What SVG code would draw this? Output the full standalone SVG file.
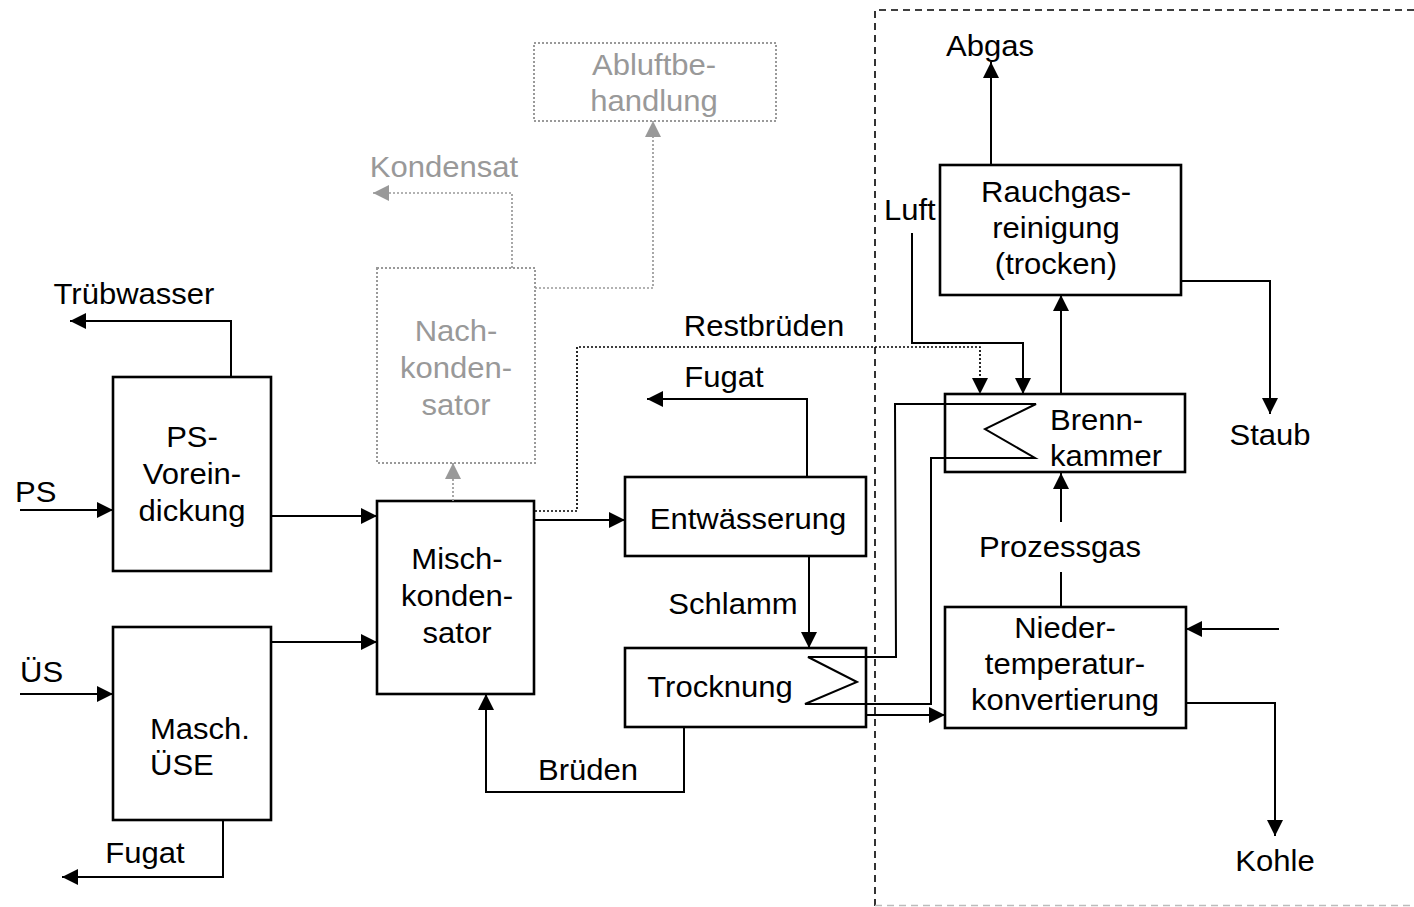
<svg xmlns="http://www.w3.org/2000/svg" width="1414" height="907" viewBox="0 0 1414 907">
<style>
.box{fill:none;stroke:#000;stroke-width:2.6}
.gbox{fill:none;stroke:#999;stroke-width:2;stroke-dasharray:2 2}
.ln{fill:none;stroke:#000;stroke-width:2}
.dl{fill:none;stroke:#000;stroke-width:1.7;stroke-dasharray:2 2}
.gl{fill:none;stroke:#999;stroke-width:1.7;stroke-dasharray:2 2}
.bd{fill:none;stroke:#000;stroke-width:1.6;stroke-dasharray:7 5}
text{font-family:"Liberation Sans",Arial,sans-serif;font-size:29px;fill:#000}
.g{fill:#999}
.c{text-anchor:middle}
</style>
<defs>
<marker id="a" markerUnits="userSpaceOnUse" markerWidth="18" markerHeight="18" refX="16" refY="8" orient="auto"><path d="M0,0L16,8L0,16z" fill="#000"/></marker>
<marker id="ag" markerUnits="userSpaceOnUse" markerWidth="18" markerHeight="18" refX="16" refY="8" orient="auto"><path d="M0,0L16,8L0,16z" fill="#999"/></marker>
</defs>
<rect x="0" y="0" width="1414" height="907" fill="#fff"/>
<g id="boundary"><path class="bd" d="M875,906V10H1414"/><path d="M875,905.5H1414" stroke="#bbb" stroke-width="1.5" stroke-dasharray="7 5" fill="none"/></g>

<g id="ps-voreindickung"><rect class="box" x="113" y="377" width="158" height="194"/><text class="c" transform="translate(192,447) scale(1.07,1)"><tspan x="0">PS-</tspan><tspan x="0" dy="37">Vorein-</tspan><tspan x="0" dy="37">dickung</tspan></text></g>
<g id="masch-use"><rect class="box" x="113" y="627" width="158" height="193"/><text transform="translate(150,739) scale(1.07,1)"><tspan x="0">Masch.</tspan><tspan x="0" dy="36">ÜSE</tspan></text></g>
<g id="mischkondensator"><rect class="box" x="377" y="501" width="157" height="193"/><text class="c" transform="translate(457,569) scale(1.07,1)"><tspan x="0">Misch-</tspan><tspan x="0" dy="37">konden-</tspan><tspan x="0" dy="37">sator</tspan></text></g>
<g id="nachkondensator"><rect class="gbox" x="377" y="268" width="158" height="195"/><text class="c g" transform="translate(456,341) scale(1.07,1)"><tspan x="0">Nach-</tspan><tspan x="0" dy="37">konden-</tspan><tspan x="0" dy="37">sator</tspan></text></g>
<g id="abluftbehandlung"><rect class="gbox" x="534" y="43" width="242" height="78"/><text class="c g" transform="translate(654,75) scale(1.07,1)"><tspan x="0">Abluftbe-</tspan><tspan x="0" dy="36">handlung</tspan></text></g>
<g id="entwaesserung"><rect class="box" x="625" y="477" width="241" height="79"/><text class="c" transform="translate(748,529) scale(1.07,1)">Entwässerung</text></g>
<g id="trocknung"><rect class="box" x="625" y="648" width="241" height="79"/><text class="c" transform="translate(720,697) scale(1.07,1)">Trocknung</text></g>
<g id="rauchgasreinigung"><rect class="box" x="940" y="165" width="241" height="130"/><text class="c" transform="translate(1056,202) scale(1.07,1)"><tspan x="0">Rauchgas-</tspan><tspan x="0" dy="36">reinigung</tspan><tspan x="0" dy="36">(trocken)</tspan></text></g>
<g id="brennkammer"><rect class="box" x="945" y="394" width="240" height="78"/><text transform="translate(1050,430) scale(1.07,1)"><tspan x="0">Brenn-</tspan><tspan x="0" dy="36">kammer</tspan></text></g>
<g id="niedertemperaturkonvertierung"><rect class="box" x="945" y="607" width="241" height="121"/><text class="c" transform="translate(1065,638) scale(1.07,1)"><tspan x="0">Nieder-</tspan><tspan x="0" dy="36">temperatur-</tspan><tspan x="0" dy="36">konvertierung</tspan></text></g>

<g id="labels">
<text class="c" transform="translate(134,304) scale(1.07,1)">Trübwasser</text>
<text transform="translate(15,502) scale(1.07,1)">PS</text>
<text transform="translate(20,682) scale(1.07,1)">ÜS</text>
<text class="c" transform="translate(145,863) scale(1.07,1)">Fugat</text>
<text class="c g" transform="translate(444,177) scale(1.07,1)">Kondensat</text>
<text class="c" transform="translate(764,336) scale(1.07,1)">Restbrüden</text>
<text class="c" transform="translate(724,387) scale(1.07,1)">Fugat</text>
<text class="c" transform="translate(733,614) scale(1.07,1)">Schlamm</text>
<text class="c" transform="translate(588,780) scale(1.07,1)">Brüden</text>
<text class="c" transform="translate(990,56) scale(1.07,1)">Abgas</text>
<text transform="translate(884,220) scale(1.07,1)">Luft</text>
<text class="c" transform="translate(1270,445) scale(1.07,1)">Staub</text>
<text class="c" transform="translate(1060,557) scale(1.07,1)">Prozessgas</text>
<text class="c" transform="translate(1275,871) scale(1.07,1)">Kohle</text>
</g>

<g id="connectors">
<path class="ln" marker-end="url(#a)" d="M20,510H113"/>
<path class="ln" marker-end="url(#a)" d="M231,377V321H70"/>
<path class="ln" marker-end="url(#a)" d="M271,516H377"/>
<path class="ln" marker-end="url(#a)" d="M20,694H113"/>
<path class="ln" marker-end="url(#a)" d="M271,642H377"/>
<path class="ln" marker-end="url(#a)" d="M223,820V877H62"/>
<path class="ln" marker-end="url(#a)" d="M534,520H625"/>
<path class="dl" marker-end="url(#a)" d="M535,511H577V347H980V394"/>
<path class="gl" marker-end="url(#ag)" d="M453,501V463"/>
<path class="gl" marker-end="url(#ag)" d="M512,268V193H373"/>
<path class="gl" marker-end="url(#ag)" d="M535,288H653V121"/>
<path class="ln" marker-end="url(#a)" d="M807,477V399H647"/>
<path class="ln" marker-end="url(#a)" d="M809,556V648"/>
<path class="ln" marker-end="url(#a)" d="M684,727V792H486V694"/>
<path class="ln" marker-end="url(#a)" d="M912,233V343H1023V394"/>
<path class="ln" marker-end="url(#a)" d="M1061,394V295"/>
<path class="ln" marker-end="url(#a)" d="M991,165V62"/>
<path class="ln" marker-end="url(#a)" d="M1181,281H1270V414"/>
<path class="ln" d="M1061,607V572"/>
<path class="ln" marker-end="url(#a)" d="M1061,522V473"/>
<path class="ln" marker-end="url(#a)" d="M1279,629H1186"/>
<path class="ln" marker-end="url(#a)" d="M1186,703H1275V836"/>
<path class="ln" marker-end="url(#a)" d="M866,715H945"/>
<path class="ln" d="M931,704H805L857,682L808,657H896L895,404H1036L985,429L1035,458H931Z"/>
</g>
</svg>
